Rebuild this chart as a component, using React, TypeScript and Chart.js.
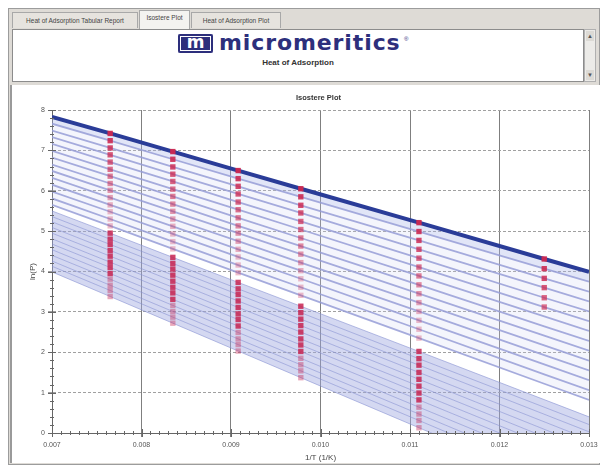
import React, { useEffect, useRef } from "react";
import { Chart, registerables } from "chart.js";

Chart.register(...registerables);

// 1/T positions (1/K): line ends and the measured temperatures
const upperX = [0.007, 0.00765, 0.00835, 0.00908, 0.00978, 0.0111, 0.0125, 0.013];
const lowerX = [0.007, 0.00765, 0.00835, 0.00908, 0.00978, 0.0111, 0.013];

// ln(P) of each isostere of the upper family, at upperX
const upperIsosteres = [
  [7.83, 7.42, 6.97, 6.5, 6.05, 5.21, 4.31, 3.99],
  [7.66, 7.24, 6.78, 6.3, 5.85, 4.99, 4.07, 3.75],
  [7.49, 7.06, 6.59, 6.11, 5.64, 4.77, 3.83, 3.5],
  [7.33, 6.89, 6.41, 5.92, 5.45, 4.55, 3.6, 3.26],
  [7.16, 6.71, 6.23, 5.72, 5.24, 4.33, 3.35, 3.01],
  [6.99, 6.53, 6.04, 5.53, 5.04, 4.11, 3.12, 2.77],
  [6.82, 6.36, 5.86, 5.33, 4.83, 3.89, 2.89, 2.53],
  [6.65, 6.18, 5.67, 5.13, 4.63, 3.67, 2.64, 2.28],
  [6.49, 6.01, 5.49, 4.95, 4.43, 3.45, 2.41, 2.04],
  [6.32, 5.83, 5.3, 4.75, 4.22, 3.23, 2.17, 1.79],
  [6.15, 5.65, 5.12, 4.55, 4.02, 3.01, 1.93, 1.55],
  [5.98, 5.48, 4.93, 4.36, 3.82, 2.79, 1.7, 1.31],
  [5.81, 5.3, 4.74, 4.16, 3.61, 2.57, 1.45, 1.06],
  [5.65, 5.13, 4.56, 3.97, 3.41, 2.35, 1.22, 0.82],
];

// ln(P) of each isostere of the lower family, at lowerX
const lowerIsosteres = [
  [5.5, 4.95, 4.35, 3.73, 3.14, 2.02, 0.4],
  [5.36, 4.8, 4.2, 3.57, 2.98, 1.84, 0.21],
  [5.23, 4.67, 4.06, 3.43, 2.82, 1.68, 0.03],
  [5.09, 4.52, 3.91, 3.27, 2.66, 1.5, -0.16],
  [4.95, 4.38, 3.76, 3.11, 2.5, 1.33, -0.35],
  [4.81, 4.23, 3.61, 2.95, 2.33, 1.16, -0.54],
  [4.68, 4.1, 3.47, 2.81, 2.18, 0.99, -0.72],
  [4.54, 3.95, 3.31, 2.65, 2.02, 0.82, -0.91],
  [4.4, 3.81, 3.16, 2.49, 1.85, 0.64, -1.1],
  [4.26, 3.66, 3.01, 2.33, 1.69, 0.47, -1.29],
  [4.13, 3.53, 2.87, 2.19, 1.54, 0.31, -1.47],
  [3.99, 3.38, 2.72, 2.03, 1.37, 0.13, -1.66],
];

// highest upper isostere that still has a point at 0.0125
const lastRowAt0125 = 5;

const xMin = 0.007;
const xMax = 0.013;
const yMin = 0;
const yMax = 8;

const tabs = ["Heat of Adsorption Tabular Report", "Isostere Plot", "Heat of Adsorption Plot"];

const FONT = "'Liberation Sans', Arial, sans-serif";

const minorTicks = {
  id: "minorTicks",
  afterDraw(chart: any) {
    const { ctx, chartArea, scales } = chart;
    const xs = scales.x;
    const ys = scales.y;
    ctx.save();
    ctx.strokeStyle = "#666";
    ctx.lineWidth = 1;
    ctx.beginPath();
    for (let k = 0; k <= 60; k++) {
      const px = Math.round(xs.getPixelForValue(xMin + k * 0.0001)) + 0.5;
      const len = k % 10 === 0 ? 4 : 2;
      ctx.moveTo(px, chartArea.bottom - len);
      ctx.lineTo(px, chartArea.bottom + len);
    }
    for (let k = 0; k <= 40; k++) {
      const py = Math.round(ys.getPixelForValue(yMin + k * 0.2)) + 0.5;
      const len = k % 5 === 0 ? 4 : 2;
      ctx.moveTo(chartArea.left - len, py);
      ctx.lineTo(chartArea.left + len, py);
    }
    ctx.stroke();
    ctx.restore();
  },
};

function IsostereChart() {
  const ref = useRef<HTMLCanvasElement | null>(null);
  useEffect(() => {
    if (!ref.current) return;
    const datasets: any[] = [];

    // lower family: filled band
    lowerIsosteres.forEach((row, j) => {
      datasets.push({
        type: "line",
        data: row.map((v, k) => ({ x: lowerX[k], y: v })),
        borderColor: "rgba(135,145,210,0.6)",
        borderWidth: 1,
        pointRadius: 0,
        fill: j === 0 ? false : "-1",
        backgroundColor: "rgba(160,168,224,0.45)",
        order: 3,
      });
    });

    // upper family lines
    upperIsosteres.forEach((row, i) => {
      datasets.push({
        type: "line",
        data: row.map((v, k) => ({ x: upperX[k], y: v })),
        borderColor: i === 0 ? "#2a3c98" : "rgba(150,158,215,0.85)",
        borderWidth: i === 0 ? 4 : 1.8,
        pointRadius: 0,
        fill: i === 0 ? false : "-1",
        backgroundColor: i === 1 ? "rgba(170,180,232,0.35)" : "rgba(205,210,240,0.22)",
        order: i === 0 ? 1 : 2,
      });
    });

    // measured points (markers)
    upperIsosteres.forEach((row, i) => {
      const pts = row
        .map((v, k) => ({ x: upperX[k], y: v, k }))
        .filter((p) => p.k > 0 && p.k < upperX.length - 1 && (p.k !== 6 || i <= lastRowAt0125));
      const a = Math.max(0.3, 0.95 - i * 0.06);
      datasets.push({
        type: "scatter",
        data: pts.map((p) => ({ x: p.x, y: p.y })),
        showLine: false,
        pointStyle: "rect",
        pointRadius: 3.8,
        pointBorderWidth: 0,
        pointBackgroundColor: `rgba(205,40,80,${a})`,
        order: 0,
      });
    });
    lowerIsosteres.forEach((row, j) => {
      const pts = row
        .map((v, k) => ({ x: lowerX[k], y: v, k }))
        .filter((p) => p.k > 0 && p.k < lowerX.length - 1);
      const a = j <= 7 ? 0.85 : 0.4;
      datasets.push({
        type: "scatter",
        data: pts.map((p) => ({ x: p.x, y: p.y })),
        showLine: false,
        pointStyle: "rect",
        pointRadius: 3.8,
        pointBorderWidth: 0,
        pointBackgroundColor: `rgba(200,35,80,${a})`,
        order: 0,
      });
    });

    const chart = new Chart(ref.current, {
      type: "line",
      data: { datasets },
      plugins: [minorTicks],
      options: {
        animation: false,
        responsive: false,
        maintainAspectRatio: false,
        layout: { padding: { top: 25, right: 13, left: 0, bottom: 0 } },
        plugins: {
          legend: { display: false },
          tooltip: { enabled: false },
          title: { display: false },
        },
        scales: {
          x: {
            type: "linear",
            min: xMin,
            max: xMax,
            ticks: {
              stepSize: 0.001,
              callback: (v: any) => Number(v).toFixed(3),
              font: { size: 7, family: FONT },
              color: "#555",
              maxRotation: 0,
              padding: 4,
            },
            grid: { color: "#7f7f7f", lineWidth: 1, tickLength: 4 },
            border: { color: "#666", width: 1 },
            title: {
              display: true,
              text: "1/T (1/K)",
              font: { size: 8, family: FONT },
              color: "#444",
              padding: { top: 0, bottom: 2 },
            },
            afterFit: (s: any) => {
              s.height = 32;
            },
          },
          y: {
            type: "linear",
            min: yMin,
            max: yMax,
            ticks: {
              stepSize: 1,
              font: { size: 7, family: FONT },
              color: "#555",
              padding: 3,
            },
            grid: { color: "#a0a0a0", lineWidth: 1, tickLength: 4 },
            border: { color: "#666", width: 1, dash: [3, 2] },
            title: {
              display: true,
              text: "ln(P)",
              font: { size: 8, family: FONT },
              color: "#444",
              padding: { top: 16, bottom: 0 },
            },
            afterFit: (s: any) => {
              s.width = 40;
            },
          },
        },
      } as any,
    });
    return () => chart.destroy();
  }, []);
  return <canvas ref={ref} width={590} height={380} style={{ position: "absolute", left: 0, top: 0 }} />;
}

export default function App() {
  return (
    <div
      style={{
        position: "absolute",
        left: 0,
        top: 0,
        width: 601,
        height: 470,
        background: "#ffffff",
        overflow: "hidden",
        fontFamily: FONT,
      }}
    >
      {/* window frame */}
      <div
        style={{
          position: "absolute",
          left: 8,
          top: 8,
          width: 592,
          height: 457,
          background: "#dedbd6",
          border: "1px solid #9c9c9c",
          boxSizing: "border-box",
        }}
      />
      {/* tabs */}
      {tabs.map((t, i) => {
        const lefts = [12, 139, 191];
        const widths = [126, 51, 90];
        const sel = i === 1;
        return (
          <div
            key={t}
            style={{
              position: "absolute",
              left: lefts[i],
              top: sel ? 10 : 12,
              width: widths[i],
              height: sel ? 19 : 16,
              background: sel ? "#f4f3f0" : "#e6e3de",
              border: "1px solid #a8a8a8",
              borderBottom: "none",
              boxSizing: "border-box",
              fontSize: 6.5,
              color: "#444",
              textAlign: "center",
              lineHeight: sel ? "14px" : "15px",
              whiteSpace: "nowrap",
              overflow: "hidden",
            }}
          >
            {t}
          </div>
        );
      })}
      {/* header panel */}
      <div
        style={{
          position: "absolute",
          left: 12,
          top: 29,
          width: 572,
          height: 53,
          background: "#ffffff",
          border: "1px solid #8c8c8c",
          boxSizing: "border-box",
        }}
      />
      {/* scrollbar */}
      <div
        style={{
          position: "absolute",
          left: 584,
          top: 29,
          width: 12,
          height: 53,
          background: "#ecebe8",
          border: "1px solid #b0b0b0",
          boxSizing: "border-box",
        }}
      >
        <div style={{ position: "absolute", left: 1, top: 1, width: 8, height: 10, background: "#dcdad5", fontSize: 6, color: "#555", textAlign: "center", lineHeight: "10px" }}>▲</div>
        <div style={{ position: "absolute", left: 1, bottom: 1, width: 8, height: 10, background: "#dcdad5", fontSize: 6, color: "#555", textAlign: "center", lineHeight: "10px" }}>▼</div>
      </div>
      {/* logo */}
      <div
        style={{
          position: "absolute",
          left: 178,
          top: 34,
          width: 35,
          height: 19,
          background: "#2d2f7c",
          borderRadius: 2,
          color: "#ffffff",
          fontSize: 17,
          fontWeight: "bold",
          lineHeight: "17px",
          textAlign: "center",
          fontFamily: "'DejaVu Sans', sans-serif",
          boxShadow: "inset 0 0 0 2px #2d2f7c, inset 0 0 0 3px #ffffff",
        }}
      >
        m
      </div>
      <div
        style={{
          position: "absolute",
          left: 219,
          top: 30,
          fontSize: 22,
          fontWeight: "bold",
          color: "#2d2f7c",
          fontFamily: "'DejaVu Sans', sans-serif",
          letterSpacing: 0.9,
          whiteSpace: "nowrap",
        }}
      >
        micromeritics
      </div>
      <div style={{ position: "absolute", left: 404, top: 36, fontSize: 6, color: "#2d2f7c" }}>®</div>
      <div
        style={{
          position: "absolute",
          left: 12,
          width: 572,
          top: 58,
          textAlign: "center",
          fontSize: 8,
          fontWeight: "bold",
          color: "#333",
        }}
      >
        Heat of Adsorption
      </div>
      {/* chart panel */}
      <div
        style={{
          position: "absolute",
          left: 10,
          top: 85,
          width: 590,
          height: 378,
          background: "#ffffff",
          borderLeft: "2px solid #9a9a9a",
          boxSizing: "border-box",
          overflow: "hidden",
        }}
      >
        <IsostereChart />
      </div>
      <div
        style={{
          position: "absolute",
          left: 50,
          width: 537,
          top: 93,
          textAlign: "center",
          fontSize: 7.5,
          fontWeight: "bold",
          color: "#333",
        }}
      >
        Isostere Plot
      </div>
    </div>
  );
}
